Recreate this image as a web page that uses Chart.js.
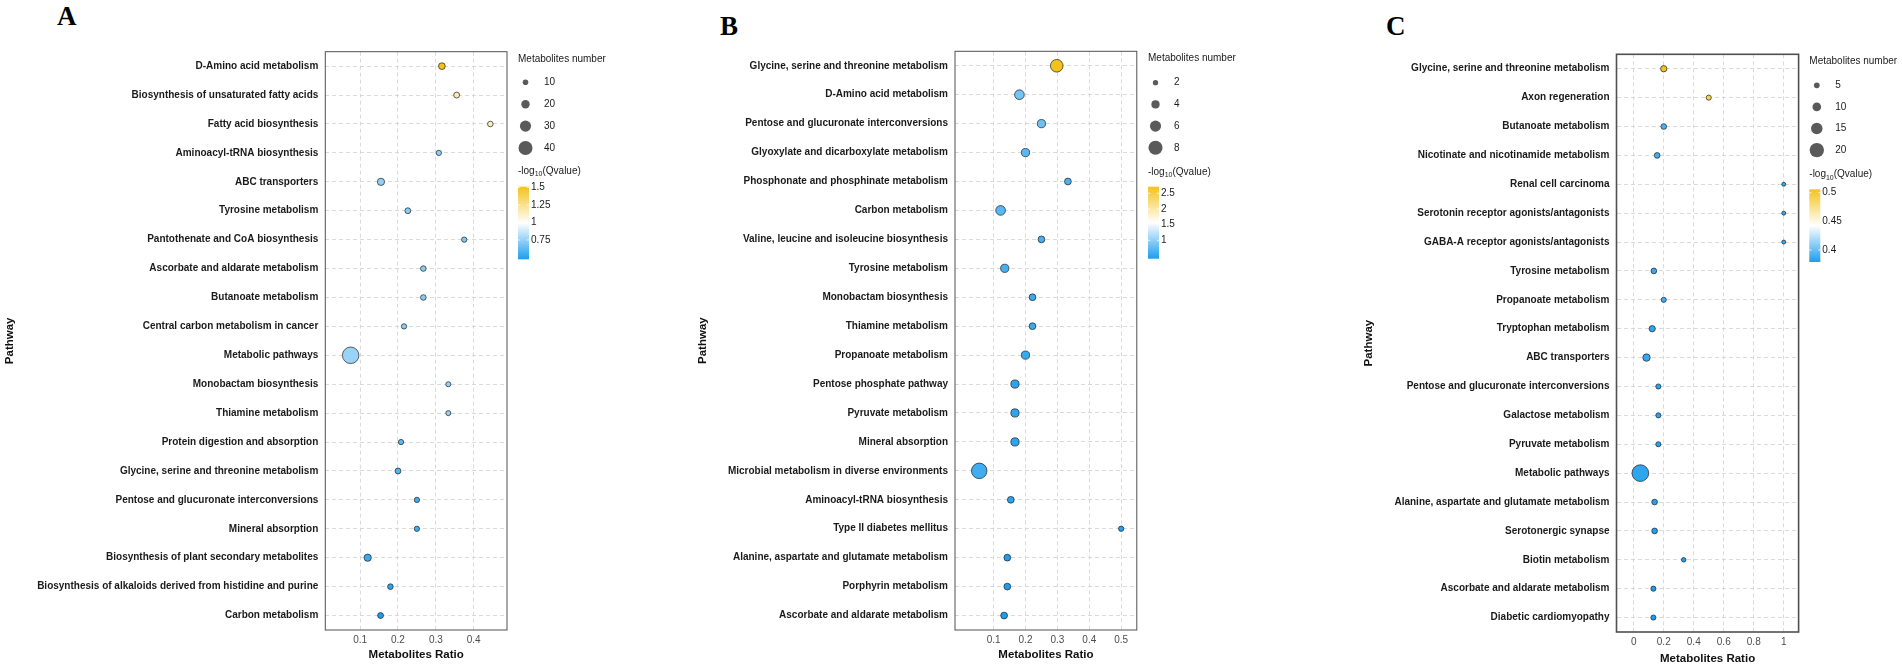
<!DOCTYPE html>
<html>
<head>
<meta charset="utf-8">
<title>KEGG enrichment bubble plots</title>
<script src="https://cdn.jsdelivr.net/npm/chart.js@4.4.1/dist/chart.umd.min.js"></script>
<style>
  body { margin: 0; background: #fff; width: 1902px; height: 668px; overflow: hidden; position: relative; }
  canvas { position: absolute; top: 0; }
  .tag { position: absolute; font: bold 27px "Liberation Serif", "Times New Roman", serif; line-height: 27px; color: #000; }
</style>
</head>
<body>
<div class="tag" style="left:57px;top:3px">A</div>
<div class="tag" style="left:720px;top:13px">B</div>
<div class="tag" style="left:1386px;top:13px">C</div>
<canvas id="chartA" width="640" height="668" style="left:0px"></canvas>
<canvas id="chartB" width="569" height="668" style="left:693px"></canvas>
<canvas id="chartC" width="543" height="668" style="left:1359px"></canvas>
<script>
// ---- Panel A data ----
const pathwaysA = ['D-Amino acid metabolism', 'Biosynthesis of unsaturated fatty acids', 'Fatty acid biosynthesis',
  'Aminoacyl-tRNA biosynthesis', 'ABC transporters', 'Tyrosine metabolism', 'Pantothenate and CoA biosynthesis',
  'Ascorbate and aldarate metabolism', 'Butanoate metabolism', 'Central carbon metabolism in cancer',
  'Metabolic pathways', 'Monobactam biosynthesis', 'Thiamine metabolism', 'Protein digestion and absorption',
  'Glycine, serine and threonine metabolism', 'Pentose and glucuronate interconversions', 'Mineral absorption',
  'Biosynthesis of plant secondary metabolites', 'Biosynthesis of alkaloids derived from histidine and purine',
  'Carbon metabolism'];
const ratioA = [0.316, 0.355, 0.444, 0.308, 0.155, 0.226, 0.375, 0.267, 0.267, 0.216,
  0.075, 0.333, 0.333, 0.208, 0.2, 0.25, 0.25, 0.12, 0.18, 0.154];
const countA = [14, 11, 10, 9, 16, 11, 9, 10, 10, 9, 49, 8, 8, 9, 11, 9, 9, 16, 10, 11];
const qvalA = [1.509, 1.16, 1.14, 0.74, 0.74, 0.72, 0.7, 0.72, 0.72, 0.72,
  0.76, 0.75, 0.75, 0.62, 0.6, 0.56, 0.56, 0.55, 0.52, 0.475];
const xTicksA = [0.1, 0.2, 0.3, 0.4];
const sizeBreaksA = [10, 20, 30, 40];
const colorBreaksA = [0.75, 1, 1.25, 1.5];

// ---- Panel B data ----
const pathwaysB = ['Glycine, serine and threonine metabolism', 'D-Amino acid metabolism',
  'Pentose and glucuronate interconversions', 'Glyoxylate and dicarboxylate metabolism',
  'Phosphonate and phosphinate metabolism', 'Carbon metabolism', 'Valine, leucine and isoleucine biosynthesis',
  'Tyrosine metabolism', 'Monobactam biosynthesis', 'Thiamine metabolism', 'Propanoate metabolism',
  'Pentose phosphate pathway', 'Pyruvate metabolism', 'Mineral absorption',
  'Microbial metabolism in diverse environments', 'Aminoacyl-tRNA biosynthesis', 'Type II diabetes mellitus',
  'Alanine, aspartate and glutamate metabolism', 'Porphyrin metabolism', 'Ascorbate and aldarate metabolism'];
const ratioB = [0.298, 0.181, 0.25, 0.2, 0.333, 0.122, 0.25, 0.135, 0.222, 0.222,
  0.2, 0.167, 0.167, 0.167, 0.055, 0.154, 0.5, 0.143, 0.143, 0.133];
const countB = [7, 5, 4, 4, 3, 5, 3, 4, 3, 3, 4, 4, 4, 4, 9, 3, 2, 3, 3, 3];
const qvalB = [2.71, 0.86, 0.82, 0.72, 0.66, 0.72, 0.62, 0.62, 0.56, 0.56,
  0.55, 0.5, 0.5, 0.5, 0.6, 0.48, 0.45, 0.43, 0.43, 0.413];
const xTicksB = [0.1, 0.2, 0.3, 0.4, 0.5];
const sizeBreaksB = [2, 4, 6, 8];
const colorBreaksB = [1, 1.5, 2, 2.5];

// ---- Panel C data ----
const pathwaysC = ['Glycine, serine and threonine metabolism', 'Axon regeneration', 'Butanoate metabolism',
  'Nicotinate and nicotinamide metabolism', 'Renal cell carcinoma', 'Serotonin receptor agonists/antagonists',
  'GABA-A receptor agonists/antagonists', 'Tyrosine metabolism', 'Propanoate metabolism', 'Tryptophan metabolism',
  'ABC transporters', 'Pentose and glucuronate interconversions', 'Galactose metabolism', 'Pyruvate metabolism',
  'Metabolic pathways', 'Alanine, aspartate and glutamate metabolism', 'Serotonergic synapse',
  'Biotin metabolism', 'Ascorbate and aldarate metabolism', 'Diabetic cardiomyopathy'];
const ratioC = [0.2, 0.5, 0.2, 0.156, 1, 1, 1, 0.134, 0.2, 0.123,
  0.085, 0.164, 0.164, 0.164, 0.044, 0.139, 0.139, 0.333, 0.131, 0.131];
const countC = [6, 4, 5, 5, 2, 2, 2, 5, 4, 6, 8, 4, 4, 4, 24, 5, 5, 3, 4, 4];
const qvalC = [0.506, 0.49, 0.392, 0.39, 0.386, 0.386, 0.386, 0.386, 0.39, 0.385,
  0.386, 0.383, 0.383, 0.383, 0.384, 0.381, 0.381, 0.38, 0.379, 0.379];
const xTicksC = [0, 0.2, 0.4, 0.6, 0.8, 1];
const sizeBreaksC = [5, 10, 15, 20];
const colorBreaksC = [0.4, 0.45, 0.5];

const FONT = '"Liberation Sans", Arial, Helvetica, sans-serif';
const LOW = [28, 157, 238], MID = [255, 255, 255], HIGH = [244, 195, 27];

// blue -> white -> gold over the data range
function qColor(v, vmin, vmax) {
  let t = (v - vmin) / (vmax - vmin);
  t = Math.max(0, Math.min(1, t));
  const c0 = t < 0.5 ? LOW : MID;
  const c1 = t < 0.5 ? MID : HIGH;
  const u = t < 0.5 ? t * 2 : (t - 0.5) * 2;
  const c = c0.map((x, i) => Math.round(x + (c1[i] - x) * u));
  return 'rgb(' + c.join(',') + ')';
}

// panel frame + ggplot-like legends
function panelPlugin(cfg, radius, vmin, vmax) {
  return {
    id: 'panel' + cfg.id,
    afterDraw(chart) {
      const ctx = chart.ctx, a = chart.chartArea;
      ctx.save();
      ctx.strokeStyle = '#505050';
      ctx.lineWidth = cfg.frameW;
      ctx.strokeRect(a.left, a.top, a.right - a.left, a.bottom - a.top);

      const lx = cfg.legendX;
      ctx.textBaseline = 'middle';
      ctx.textAlign = 'left';
      ctx.font = '10px ' + FONT;
      ctx.fillStyle = '#1a1a1a';
      ctx.fillText('Metabolites number', lx, cfg.sizeTitleY);
      cfg.sizeBreaks.forEach((b, i) => {
        const y = cfg.sizeY0 + i * cfg.sizeStep;
        ctx.beginPath();
        ctx.arc(lx + 7.5, y, radius(b), 0, Math.PI * 2);
        ctx.fillStyle = '#5a5a5a';
        ctx.fill();
        ctx.fillStyle = '#1a1a1a';
        ctx.fillText(String(b), lx + 26, y);
      });

      // -log10(Qvalue)
      let x = lx;
      const ty = cfg.colorTitleY;
      ctx.fillText('-log', x, ty);
      x += ctx.measureText('-log').width;
      ctx.font = '7px ' + FONT;
      ctx.fillText('10', x, ty + 3);
      x += ctx.measureText('10').width;
      ctx.font = '10px ' + FONT;
      ctx.fillText('(Qvalue)', x, ty);

      const bt = cfg.barTop, bb = cfg.barBottom, bw = 11;
      const g = ctx.createLinearGradient(0, bb, 0, bt);
      for (let k = 0; k <= 20; k++) {
        g.addColorStop(k / 20, qColor(vmin + (vmax - vmin) * k / 20, vmin, vmax));
      }
      ctx.fillStyle = g;
      ctx.fillRect(lx, bt, bw, bb - bt);
      cfg.colorBreaks.forEach(v => {
        const y = bb - (v - vmin) / (vmax - vmin) * (bb - bt);
        ctx.strokeStyle = '#fff';
        ctx.lineWidth = 0.8;
        ctx.beginPath();
        ctx.moveTo(lx, y); ctx.lineTo(lx + 2.2, y);
        ctx.moveTo(lx + bw - 2.2, y); ctx.lineTo(lx + bw, y);
        ctx.stroke();
        ctx.fillStyle = '#1a1a1a';
        ctx.fillText(String(v), lx + bw + 2, y);
      });
      ctx.restore();
    }
  };
}

function buildPanel(cfg) {
  const vmin = Math.min(...cfg.qval), vmax = Math.max(...cfg.qval);
  const radius = n => cfg.rBase + cfg.rStep * n;
  const points = cfg.pathways.map((p, i) => ({ x: cfg.ratio[i], y: p, r: radius(cfg.count[i]) }));
  const gridColor = '#d0d0d0';

  new Chart(document.getElementById(cfg.canvas), {
    type: 'bubble',
    data: {
      labels: cfg.pathways,
      datasets: [{
        data: points,
        backgroundColor: cfg.qval.map(v => qColor(v, vmin, vmax)),
        borderColor: '#1f1f1f',
        borderWidth: 0.7
      }]
    },
    options: {
      responsive: false,
      animation: false,
      events: [],
      layout: { padding: { left: 0, right: cfg.padRight, top: cfg.plotTop, bottom: 0 } },
      plugins: { legend: { display: false }, tooltip: { enabled: false } },
      scales: {
        x: {
          type: 'linear',
          position: 'bottom',
          min: cfg.xMin,
          max: cfg.xMax,
          afterBuildTicks: s => { s.ticks = cfg.xTicks.map(v => ({ value: v })); },
          afterFit: s => { s.height = 668 - cfg.plotBottom; },
          grid: { color: gridColor, lineWidth: 0.8, drawTicks: false },
          border: { display: false, dash: [4, 3] },
          ticks: { padding: cfg.xTickPad, color: '#4d4d4d', font: { family: FONT, size: 10 }, callback: v => String(v) },
          title: {
            display: true, text: 'Metabolites Ratio', color: '#111',
            font: { family: FONT, size: 11.5, weight: 'bold' },
            padding: { top: 0, bottom: cfg.xTitlePad }
          }
        },
        y: {
          type: 'category',
          labels: cfg.pathways,
          offset: true,
          position: 'left',
          afterFit: s => { s.width = cfg.yAxisW; },
          grid: { color: gridColor, lineWidth: 0.8, drawTicks: false, offset: false },
          border: { display: false, dash: [4, 3] },
          ticks: { autoSkip: false, padding: 7, color: '#1a1a1a', font: { family: FONT, size: 10, weight: 'bold' } },
          title: {
            display: true, text: 'Pathway', color: '#111',
            font: { family: FONT, size: 11.5, weight: 'bold' },
            padding: { top: 3, bottom: 0 }
          }
        }
      }
    },
    plugins: [panelPlugin(cfg, radius, vmin, vmax)]
  });
}

buildPanel({
  id: 'A', canvas: 'chartA', pathways: pathwaysA, ratio: ratioA, count: countA, qval: qvalA,
  xTicks: xTicksA, sizeBreaks: sizeBreaksA, colorBreaks: colorBreaksA,
  xMin: 0.008, xMax: 0.488, rBase: 1.4, rStep: 0.14,
  yAxisW: 325.3, padRight: 133, plotTop: 51.7, plotBottom: 630, xTickPad: 4.7, xTitlePad: 6.1, frameW: 1,
  legendX: 518, sizeTitleY: 59.3, sizeY0: 82.3, sizeStep: 21.9, colorTitleY: 171, barTop: 186.7, barBottom: 259.3
});

buildPanel({
  id: 'B', canvas: 'chartB', pathways: pathwaysB, ratio: ratioB, count: countB, qval: qvalB,
  xTicks: xTicksB, sizeBreaks: sizeBreaksB, colorBreaks: colorBreaksB,
  xMin: -0.021, xMax: 0.549, rBase: 1.2, rStep: 0.73,
  yAxisW: 262, padRight: 125.2, plotTop: 51.3, plotBottom: 630, xTickPad: 4.7, xTitlePad: 6.1, frameW: 1,
  legendX: 455, sizeTitleY: 58.7, sizeY0: 82.7, sizeStep: 21.7, colorTitleY: 172, barTop: 186.7, barBottom: 258.7
});

buildPanel({
  id: 'C', canvas: 'chartC', pathways: pathwaysC, ratio: ratioC, count: countC, qval: qvalC,
  xTicks: xTicksC, sizeBreaks: sizeBreaksC, colorBreaks: colorBreaksC,
  xMin: -0.115, xMax: 1.099, rBase: 1.4, rStep: 0.29,
  yAxisW: 257.5, padRight: 103.4, plotTop: 54.3, plotBottom: 632, xTickPad: 4.3, xTitlePad: 2.1, frameW: 1.6,
  legendX: 450.3, sizeTitleY: 61.3, sizeY0: 85.3, sizeStep: 21.6, colorTitleY: 174.7, barTop: 189.3, barBottom: 262
});
</script>
</body>
</html>
